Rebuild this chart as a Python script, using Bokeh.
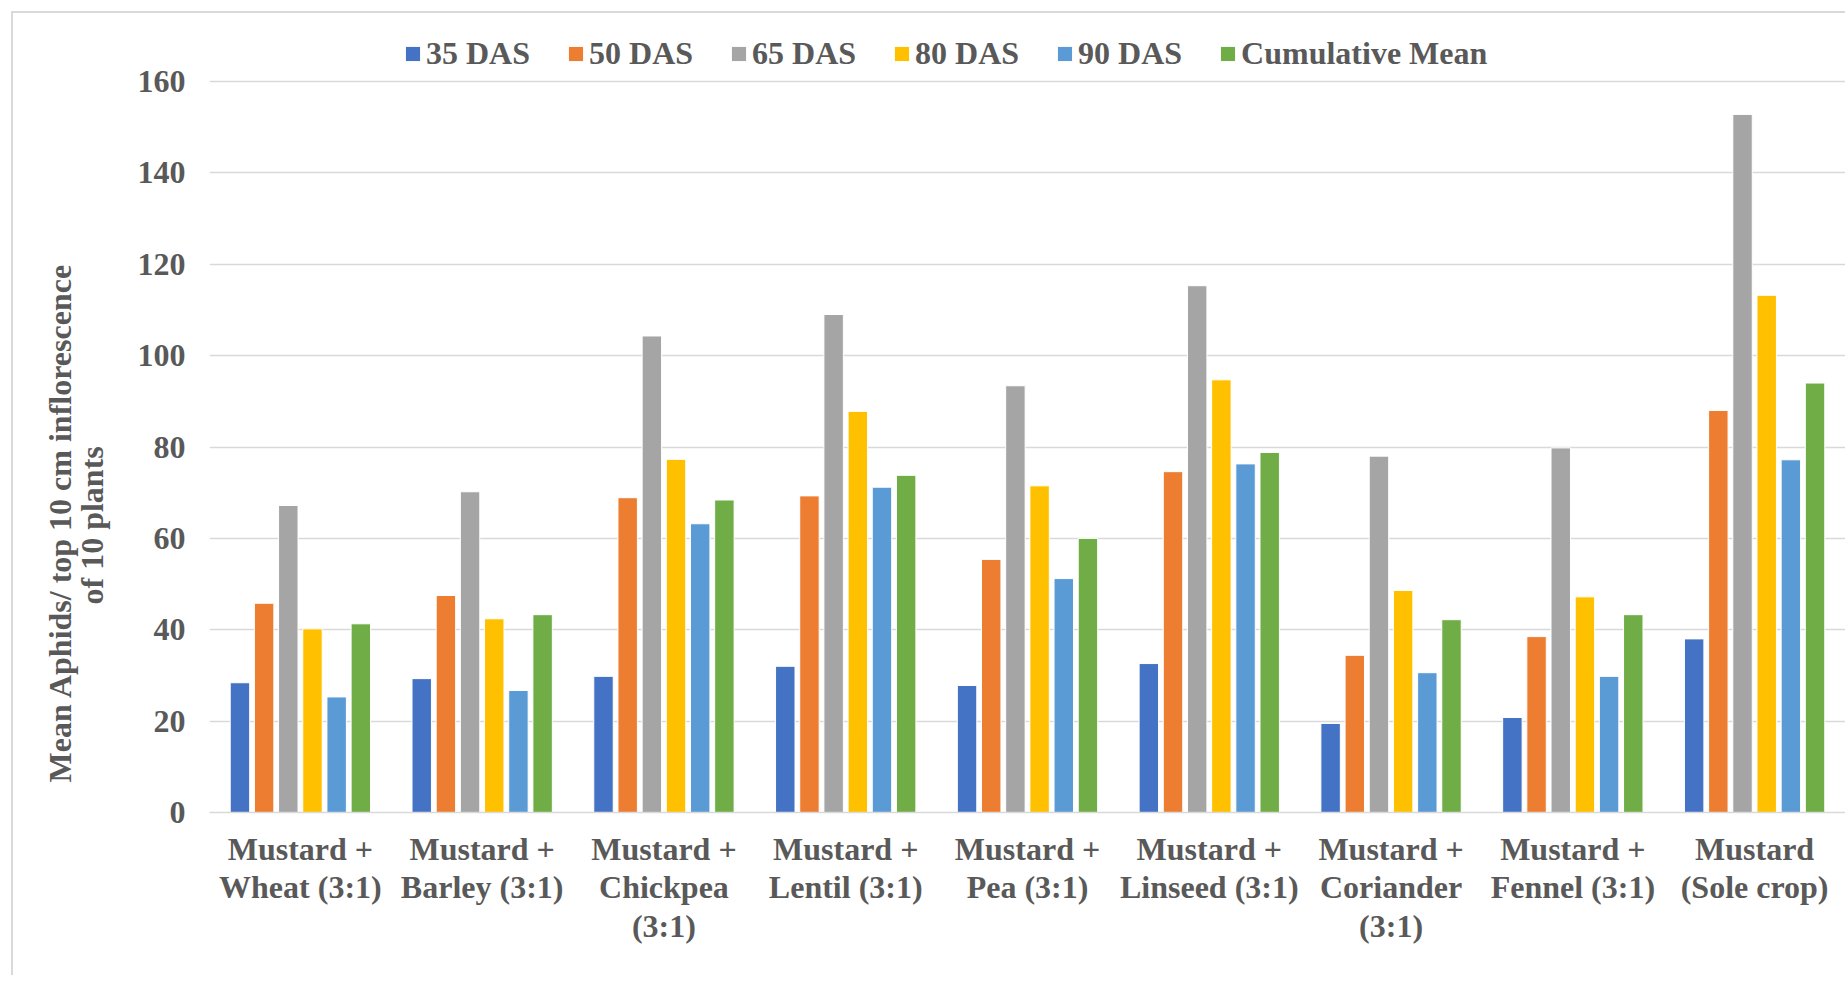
import math
from bokeh.plotting import figure
from bokeh.models import (FactorRange, Range1d, Legend, LegendItem, Title,
                          ColumnDataSource, FixedTicker)
from bokeh.transform import dodge
from bokeh.embed import file_html
from bokeh.resources import INLINE

# ---------------- data ----------------
categories = [
    "Mustard +\nWheat (3:1)",
    "Mustard +\nBarley (3:1)",
    "Mustard +\nChickpea\n(3:1)",
    "Mustard +\nLentil (3:1)",
    "Mustard +\nPea (3:1)",
    "Mustard +\nLinseed (3:1)",
    "Mustard +\nCoriander\n(3:1)",
    "Mustard +\nFennel (3:1)",
    "Mustard\n(Sole crop)",
]
series_names = ["35 DAS", "50 DAS", "65 DAS", "80 DAS", "90 DAS", "Cumulative Mean"]
das35 = [28.4, 29.3, 29.8, 32.0, 27.8, 32.6, 19.5, 20.8, 38.0]
das50 = [45.8, 47.5, 68.9, 69.3, 55.4, 74.6, 34.4, 38.5, 88.0]
das65 = [67.2, 70.2, 104.3, 109.0, 93.4, 115.3, 78.0, 79.8, 152.8]
das80 = [40.2, 42.4, 77.3, 87.8, 71.5, 94.7, 48.6, 47.2, 113.2]
das90 = [25.3, 26.7, 63.2, 71.2, 51.2, 76.3, 30.6, 29.8, 77.2]
cum_mean = [41.3, 43.3, 68.4, 73.8, 60.0, 78.8, 42.2, 43.3, 94.0]
y_ticks = [0, 20, 40, 60, 80, 100, 120, 140, 160]
y_title_line1 = "Mean Aphids/ top 10 cm inflorescence"
y_title_line2 = "of 10 plants"

colors = ["#4472C4", "#ED7D31", "#A5A5A5", "#FFC000", "#5B9BD5", "#70AD47"]
series_values = [das35, das50, das65, das80, das90, cum_mean]

FONT = "Liberation Serif"
TXT = "#595959"
GRID = "#d9d9d9"

H = 975
TOP = 20          # frame top (px); the 160 gridline sits at y = 81
BOTTOM = 812      # frame bottom (px)
px_per_unit = (BOTTOM - 81) / 160.0
y_end = (BOTTOM - TOP) / px_per_unit   # empty head-room above 160 for the legend

# light chart-area border (left and top edges) drawn as CSS background
border_css = {
    "background-color": "white",
    "background-image": ("linear-gradient(#d9d9d9, #d9d9d9), "
                         "linear-gradient(#d9d9d9, #d9d9d9)"),
    "background-size": "2px 100%, 100% 2px",
    "background-position": "11px 11px, 11px 11px",
    "background-repeat": "no-repeat",
}

p = figure(x_range=FactorRange(*categories), y_range=Range1d(0, y_end),
           width=1845, height=H, output_backend="svg", toolbar_location=None,
           min_border_left=209, min_border_right=0, min_border_top=TOP,
           min_border_bottom=H - BOTTOM, styles=border_css)
p.outline_line_color = None
p.background_fill_color = "white"
p.border_fill_alpha = 0

bar_w = 0.107
pitch = 0.133
items = []
for k, (name, vals, col) in enumerate(zip(series_names, series_values, colors)):
    src = ColumnDataSource(dict(x=categories, top=vals))
    r = p.vbar(x=dodge("x", (k - 2.5) * pitch, range=p.x_range), top="top",
               width=bar_w, source=src, fill_color=col, line_color="white",
               line_width=1)
    items.append(LegendItem(label=name, renderers=[r]))

legend = Legend(items=items, orientation="horizontal", location=(194, 740),
                glyph_width=19, glyph_height=19, label_standoff=4, spacing=36,
                padding=0, margin=0, border_line_color=None,
                background_fill_alpha=0,
                label_text_font=FONT, label_text_font_style="bold",
                label_text_font_size="32px", label_text_color=TXT)
p.add_layout(legend)

# y axis
p.yaxis.ticker = FixedTicker(ticks=y_ticks)
p.yaxis.axis_line_color = None
p.yaxis.major_tick_line_color = None
p.yaxis.minor_tick_line_color = None
p.yaxis.major_tick_out = 0
p.yaxis.major_label_standoff = 24
p.yaxis.major_label_text_font = FONT
p.yaxis.major_label_text_font_style = "bold"
p.yaxis.major_label_text_font_size = "32px"
p.yaxis.major_label_text_color = TXT

# x axis
p.xaxis.axis_line_color = GRID
p.xaxis.axis_line_width = 1.5
p.xaxis.major_tick_line_color = None
p.xaxis.minor_tick_line_color = None
p.xaxis.major_tick_out = 0
p.xaxis.major_label_standoff = 18
p.xaxis.major_label_text_font = FONT
p.xaxis.major_label_text_font_style = "bold"
p.xaxis.major_label_text_font_size = "32px"
p.xaxis.major_label_text_color = TXT
p.xaxis.major_label_text_line_height = 1.07

p.xgrid.grid_line_color = None
p.ygrid.ticker = FixedTicker(ticks=y_ticks)
p.ygrid.grid_line_color = GRID
p.ygrid.grid_line_width = 1.5

# y axis title, two centred lines (inner line added first)
t2 = Title(text=y_title_line2, align="left", offset=208, standoff=50,
           text_font=FONT, text_font_style="bold", text_font_size="32px",
           text_color=TXT)
t1 = Title(text=y_title_line1, align="left", offset=30, standoff=-62,
           text_font=FONT, text_font_style="bold", text_font_size="32px",
           text_color=TXT)
p.add_layout(t2, "left")
p.add_layout(t1, "left")

open("out.html", "w").write(file_html(p, INLINE))
